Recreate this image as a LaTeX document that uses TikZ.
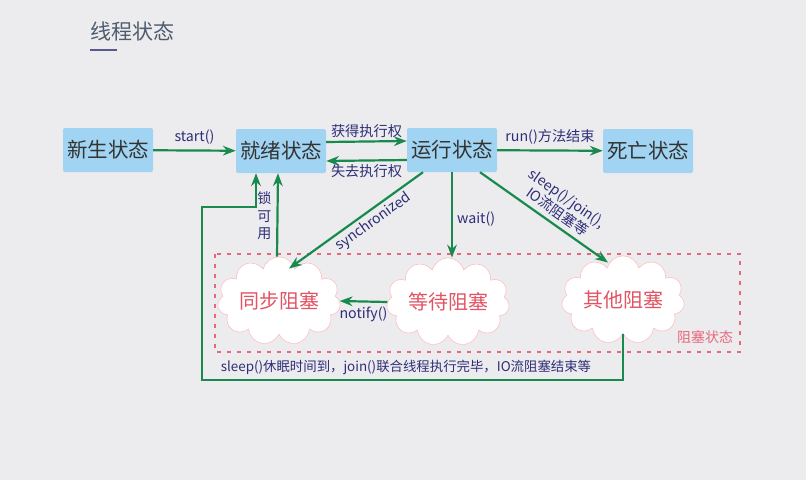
\documentclass[tikz,border=0pt]{standalone}
\usepackage{fontspec}
\setmainfont{Noto Sans CJK SC}
\usetikzlibrary{arrows.meta, shapes.symbols}

\definecolor{boxblue}{RGB}{160,212,242}
\definecolor{arrgreen}{RGB}{24,138,78}
\definecolor{lblblue}{RGB}{46,46,120}
\definecolor{blockred}{RGB}{226,84,100}
\definecolor{dashpink}{RGB}{232,104,124}
\definecolor{bggray}{RGB}{236,236,238}
\definecolor{titlegray}{RGB}{80,92,112}

\tikzset{
    state/.style={fill=boxblue, rounded corners=2pt, minimum width=90pt, minimum height=44pt,
        inner sep=2pt, text=black!80, font=\fontsize{20.5}{24}\selectfont},
    block/.style={cloud, cloud puffs=11, aspect=1.7, fill=white, draw=red!25, line width=0.6pt,
        minimum width=108pt, minimum height=68pt, inner sep=0pt, text=blockred,
        font=\fontsize{20}{24}\selectfont},
    arr/.style={->, arrgreen, line width=2.2pt},
    lbl/.style={text=lblblue, font=\fontsize{14.2}{16}\selectfont, inner sep=2pt},
}

\begin{document}
\begin{tikzpicture}[>=Stealth, x=1pt, y=-1pt]
    % === Background ===
    \useasboundingbox (0,0) rectangle (806,480);
    \fill[bggray] (0,0) rectangle (806,480);

    % Title
    \node[text=titlegray, font=\fontsize{21}{24}\selectfont] (title) at (132,31) {线程状态};
    \draw[line width=2pt, lblblue!80] (90,50) -- (117,50);

    % === States ===
    \node[state] (new)   at (108,150) {新生状态};
    \node[state] (ready) at (281,151) {就绪状态};
    \node[state] (run)   at (452,150) {运行状态};
    \node[state] (dead)  at (648,151) {死亡状态};

    % === Blocked area ===
    \draw[dashpink, line width=1.3pt, dash pattern=on 4pt off 6pt] (215,254) rectangle (740,352);
    \node[text=dashpink, font=\fontsize{14}{16}\selectfont] (blocklbl) at (705,337) {阻塞状态};

    \node[block] (sync)  at (279,301) {同步阻塞};
    \node[block] (wait)  at (448,302) {等待阻塞};
    \node[block] (other) at (623,300) {其他阻塞};

    % === Transitions ===
    \draw[arr] (new) -- (ready) node[lbl, midway, above=3pt] {start()};
    \draw[arr] ([yshift=9pt]ready.east) -- ([yshift=9pt]run.west)
        node[lbl, midway, above=1pt] {获得执行权};
    \draw[arr] ([yshift=-10pt]run.west) -- ([yshift=-10pt]ready.east)
        node[lbl, midway, below=1pt] {失去执行权};
    \draw[arr] (run) -- (dead) node[lbl, midway, above=3pt] {run()方法结束};

    % Running -> blocked
    \draw[arr] ([xshift=-29pt]run.south) -- ([xshift=10pt,yshift=-12pt]sync.north)
        node[lbl, pos=0.42, sloped, below=1pt] {synchronized};
    \draw[arr] (run.south) -- (run.south |- wait.north)
        node[lbl, pos=0.55, right=2pt] {wait()};
    \draw[arr] ([xshift=28pt]run.south) -- ([xshift=-15pt,yshift=-7pt]other.north)
        node[lbl, pos=0.55, sloped, above=3pt, align=center, font=\fontsize{14.2}{15}\selectfont] {sleep()/join(),\\IO流阻塞等};

    % Blocked -> ready
    \draw[arr] (wait.west) -- (sync.east) node[lbl, midway, below=2pt] {notify()};
    \draw[arr] ([xshift=-2pt]sync.north) -- ([xshift=-3pt]ready.south)
        node[lbl, pos=0.49, left=3pt, align=center, font=\fontsize{14}{17.5}\selectfont] {锁\\可\\用};

    \coordinate (loopBL) at (202,380);
    \coordinate (loopTL) at (202,207);
    \draw[arr] (other.south) |- (loopBL) -- (loopTL) -| ([xshift=-25pt]ready.south);
    \node[lbl, font=\fontsize{13.4}{15}\selectfont] (wake) at (406,367) {sleep()休眠时间到，join()联合线程执行完毕，IO流阻塞结束等};
\end{tikzpicture}
\end{document}
